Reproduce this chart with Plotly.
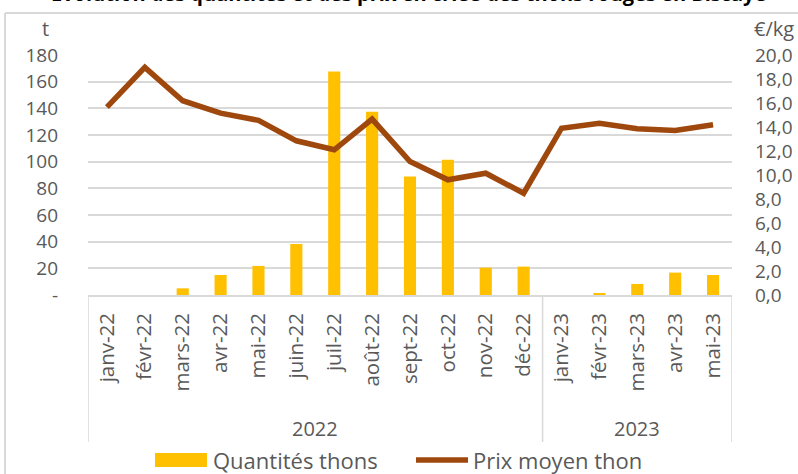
import plotly.graph_objects as go

months = ["janv-22", "févr-22", "mars-22", "avr-22", "mai-22", "juin-22", "juil-22",
          "août-22", "sept-22", "oct-22", "nov-22", "déc-22",
          "janv-23", "févr-23", "mars-23", "avr-23", "mai-23"]
quantites = [0, 0, 5.0, 15.0, 21.8, 38.3, 167.6, 137.4, 88.8, 101.4, 20.5, 21.3,
             0, 1.5, 8.3, 16.8, 15.0]
prix = [15.66, 18.97, 16.19, 15.16, 14.55, 12.85, 12.10, 14.66, 11.12, 9.60, 10.15, 8.48,
        13.90, 14.32, 13.85, 13.71, 14.18]
years = ["2022", "2023"]
year_centers = [5.5, 14]
left_ticks = [0, 20, 40, 60, 80, 100, 120, 140, 160, 180]
left_ticktext = ["-", "20", "40", "60", "80", "100", "120", "140", "160", "180"]
right_ticks = [0, 2, 4, 6, 8, 10, 12, 14, 16, 18, 20]
right_ticktext = ["0,0", "2,0", "4,0", "6,0", "8,0", "10,0", "12,0", "14,0", "16,0", "18,0", "20,0"]

title_text = "Évolution des quantités et des prix en criée des thons rouges en Biscaye"

FONT = "Open Sans"
GREY = "#595959"
GRID = "#d9d9d9"
BAR = "#FFC000"
LINE = "#9E480E"

# plot area geometry (px)
L, R, T, B = 88, 732, 55, 295
W, H = R - L, B - T
def px_x(p):
    return (p - L) / W
def px_y(p):
    return (B - p) / H

fig = go.Figure()
fig.add_trace(go.Bar(x=months, y=quantites, marker=dict(color=BAR, line=dict(width=0)),
                     name="Quantités thons", showlegend=False, yaxis="y"))
fig.add_trace(go.Scatter(x=months, y=prix, mode="lines", name="Prix moyen thon",
                         line=dict(color=LINE, width=5.5), showlegend=False, yaxis="y2"))

shapes = []
for xv in [-0.5, 11.5, 16.5]:
    shapes.append(dict(type="line", xref="x", yref="paper", x0=xv, x1=xv,
                       y0=0, y1=px_y(442), line=dict(color=GRID, width=1.5)))
shapes.append(dict(type="line", xref="paper", yref="paper", x0=px_x(5), x1=px_x(900),
                   y0=px_y(13), y1=px_y(13), line=dict(color=GRID, width=2)))
shapes.append(dict(type="line", xref="paper", yref="paper", x0=px_x(5), x1=px_x(5),
                   y0=px_y(13), y1=px_y(600), line=dict(color=GRID, width=2)))
shapes.append(dict(type="rect", xref="paper", yref="paper", x0=px_x(155), x1=px_x(207),
                   y0=px_y(453), y1=px_y(467), fillcolor=BAR, line=dict(width=0)))
shapes.append(dict(type="line", xref="paper", yref="paper", x0=px_x(416), x1=px_x(468),
                   y0=px_y(460), y1=px_y(460), line=dict(color=LINE, width=5.5)))

annotations = []
for yr, xc in zip(years, year_centers):
    annotations.append(dict(text=yr, x=xc, xref="x", y=px_y(428), yref="paper",
                            showarrow=False, font=dict(family=FONT, size=20, color=GREY),
                            xanchor="center", yanchor="middle"))
annotations.append(dict(text="t", x=px_x(45), y=px_y(29), xref="paper", yref="paper",
                        showarrow=False, font=dict(family=FONT, size=20, color=GREY),
                        xanchor="center", yanchor="middle"))
annotations.append(dict(text="€/kg", x=px_x(752), y=px_y(29), xref="paper", yref="paper",
                        showarrow=False, font=dict(family=FONT, size=20, color=GREY),
                        xanchor="left", yanchor="middle"))
annotations.append(dict(text="Quantités thons", x=px_x(211), y=px_y(460), xref="paper",
                        yref="paper", showarrow=False,
                        font=dict(family=FONT, size=22, color=GREY),
                        xanchor="left", yanchor="middle"))
annotations.append(dict(text="Prix moyen thon", x=px_x(471), y=px_y(460), xref="paper",
                        yref="paper", showarrow=False,
                        font=dict(family=FONT, size=22, color=GREY),
                        xanchor="left", yanchor="middle"))
annotations.append(dict(text="<b>" + title_text + "</b>", x=px_x(408), y=px_y(9),
                        xref="paper", yref="paper", showarrow=False,
                        font=dict(family=FONT, size=20, color="#000000"),
                        xanchor="center", yanchor="bottom"))

fig.update_layout(
    width=798, height=474,
    margin=dict(l=L, r=798 - R, t=T, b=474 - B, pad=0, autoexpand=False),
    paper_bgcolor="white", plot_bgcolor="white",
    bargap=0.68,
    font=dict(family=FONT, size=19, color=GREY),
    xaxis=dict(type="category", tickangle=-90, showgrid=False, showline=True,
               linecolor=GRID, linewidth=1.5, ticks="", ticklabelstandoff=8,
               automargin=False,
               tickfont=dict(family=FONT, size=20.5, color=GREY), range=[-0.5, 16.5]),
    yaxis=dict(range=[0, 180], tickvals=left_ticks, ticktext=left_ticktext,
               showgrid=True, gridcolor=GRID, gridwidth=1.5, zeroline=False,
               showline=False, ticks="", ticklabelstandoff=29, automargin=False,
               tickfont=dict(family=FONT, size=19, color=GREY)),
    yaxis2=dict(range=[0, 20], tickvals=right_ticks, ticktext=right_ticktext,
                overlaying="y", side="right", showgrid=False, zeroline=False,
                showline=False, ticks="", ticklabelstandoff=22, automargin=False,
                tickfont=dict(family=FONT, size=19, color=GREY)),
    shapes=shapes, annotations=annotations,
)

fig.write_html("out.html", config={"displayModeBar": False},
               post_script="document.body.style.margin='0px';")
